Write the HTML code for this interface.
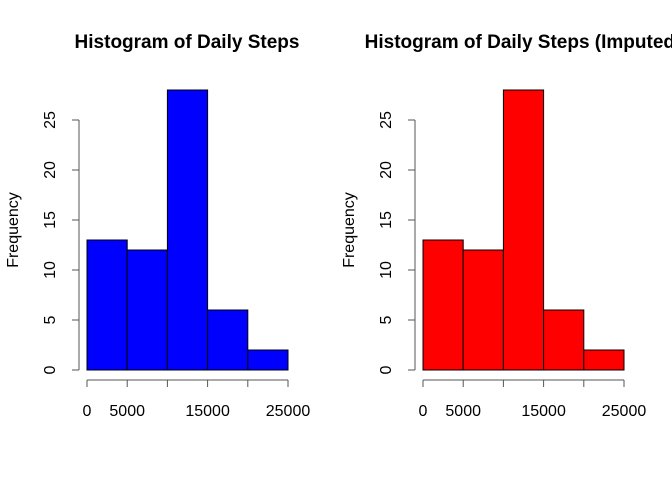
<!DOCTYPE html>
<html><head><meta charset="utf-8"><style>body{margin:0;background:#fff}svg{display:block}text{font-family:"Liberation Sans",sans-serif;fill:#000}</style></head>
<body>
<svg id="c" width="672" height="480"></svg>
<script>
const binEdges=[0,5000,10000,15000,20000,25000];
const countsOriginal=[13,12,28,6,2];
const countsImputed=[13,12,28,6,2];
const yTicks=[0,5,10,15,20,25];
const xTicks=[0,5000,10000,15000,20000,25000];
const xTickLabels=["0","5000","","15000","","25000"];
const titles=["Histogram of Daily Steps","Histogram of Daily Steps (Imputed)"];
const svg=document.getElementById('c');
const NS='http://www.w3.org/2000/svg';
function mk(t,a,p){const e=document.createElementNS(NS,t);for(const k in a)e.setAttribute(k,a[k]);(p||svg).appendChild(e);return e;}
function panel(off,counts,color,title,idx){
  const g=mk('g',{});
  
  
  const xs=v=>off+87+v*(201/25000);
  const ys=v=>370-v*10;
  const t=mk('text',{x:off+187,y:48,'text-anchor':'middle','font-size':'19','font-weight':'bold'},g);t.textContent=title;
  
  counts.forEach((c,i)=>{
    const r=mk('rect',{x:xs(binEdges[i]),y:ys(c),width:xs(binEdges[i+1])-xs(binEdges[i]),height:ys(0)-ys(c),fill:color,stroke:'#000','stroke-width':1},g);
    
  });
  const ax=off+79;
  const ya=mk('line',{x1:ax,x2:ax,y1:ys(0),y2:ys(25),stroke:'#555'},g);
  
  yTicks.forEach(v=>{
    mk('line',{x1:ax-7,x2:ax,y1:ys(v),y2:ys(v),stroke:'#555'},g);
    const l=mk('text',{x:0,y:0,'text-anchor':'middle','font-size':'16',transform:`translate(${ax-24},${ys(v)}) rotate(-90)`},g);l.textContent=v;
    
  });
  const xa=mk('line',{x1:xs(0),x2:xs(25000),y1:380,y2:380,stroke:'#555'},g);
  
  xTicks.forEach((v,i)=>{
    mk('line',{x1:xs(v),x2:xs(v),y1:380,y2:387,stroke:'#555'},g);
    const l=mk('text',{x:xs(v),y:416,'text-anchor':'middle','font-size':'16'},g);l.textContent=xTickLabels[i];
    
  });
  const yl=mk('text',{x:0,y:0,'text-anchor':'middle','font-size':'16',transform:`translate(${off+18},230) rotate(-90)`},g);yl.textContent='Frequency';
  
}
panel(0,countsOriginal,'#0000ff',titles[0],1);
panel(336,countsImputed,'#ff0000',titles[1],2);
</script>
</body></html>
